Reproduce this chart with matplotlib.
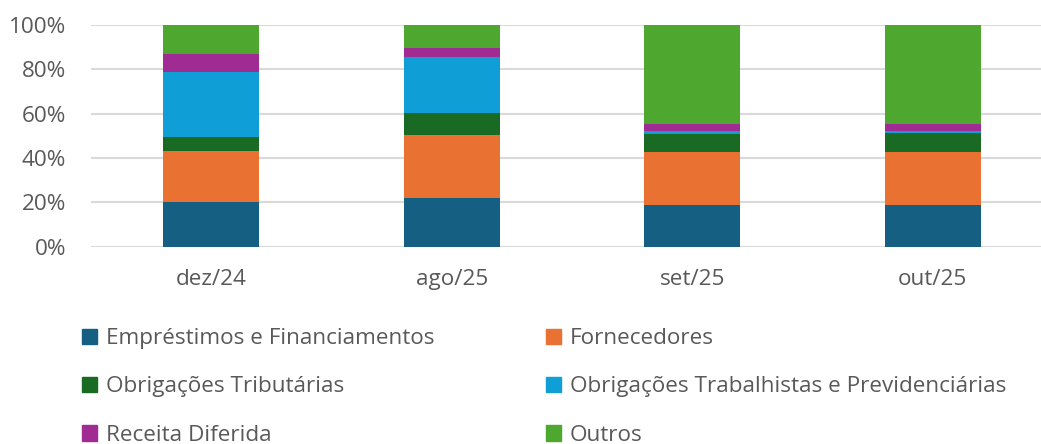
import numpy as np
import matplotlib
matplotlib.use("Agg")
import matplotlib.pyplot as plt
from matplotlib.patches import Patch

plt.rcParams['font.family'] = ['Open Sans', 'DejaVu Sans']

# data (percent of total)
categories = ['dez/24', 'ago/25', 'set/25', 'out/25']
series_names = ['Empréstimos e Financiamentos', 'Fornecedores', 'Obrigações Tributárias',
                'Obrigações Trabalhistas e Previdenciárias', 'Receita Diferida', 'Outros']
emprestimos = [20.0, 21.8, 18.6, 18.6]
fornecedores = [23.3, 28.5, 24.1, 24.1]
obrig_tributarias = [6.3, 9.8, 8.2, 8.7]
obrig_trabalhistas = [29.0, 25.6, 1.2, 0.7]
receita_diferida = [8.2, 4.0, 3.2, 3.2]
outros = [13.2, 10.3, 44.7, 44.7]

colors = ['#156082', '#e97132', '#196b24', '#0f9ed5', '#a02b93', '#4ea72e']
text_color = '#595959'
fs = 16.2

fig = plt.figure(figsize=(10.41, 4.44), dpi=100)
ax = fig.add_axes([91 / 1041, 1 - 246.5 / 444, 1 - 91 / 1041, 221.5 / 444])

x = np.arange(len(categories))
bottom = np.zeros(len(categories))
values = [emprestimos, fornecedores, obrig_tributarias, obrig_trabalhistas, receita_diferida, outros]
for name, vals, c in zip(series_names, values, colors):
    vals = np.array(vals)
    ax.bar(x, vals, 0.4, bottom=bottom, color=c, label=name, zorder=3)
    bottom += vals

ax.set_xlim(-0.5, 3.45)
ax.set_ylim(0, 100)
ax.set_yticks(np.arange(0, 101, 20))
ax.set_yticklabels([f'{v}%' for v in range(0, 101, 20)])
ax.set_xticks(x)
ax.set_xticklabels(categories)
ax.grid(axis='y', color='#d9d9d9', linewidth=1.5, zorder=0)
for s in ax.spines.values():
    s.set_visible(False)
ax.tick_params(axis='both', length=0, labelsize=fs, colors=text_color)
ax.tick_params(axis='x', pad=16)
ax.tick_params(axis='y', pad=18)

# legend in two columns, filled row by row
handles = [Patch(color=c) for c in colors]
kw = dict(frameon=False, fontsize=fs, labelcolor=text_color, handlelength=0.65,
          handleheight=0.65, handletextpad=0.4, labelspacing=1.22, borderpad=0,
          borderaxespad=0, loc='upper left')
leg1 = fig.legend([handles[0], handles[2], handles[4]],
                  [series_names[0], series_names[2], series_names[4]],
                  bbox_to_anchor=(82 / 1041, 1 - 328 / 444), **kw)
leg2 = fig.legend([handles[1], handles[3], handles[5]],
                  [series_names[1], series_names[3], series_names[5]],
                  bbox_to_anchor=(546 / 1041, 1 - 328 / 444), **kw)

fig.savefig('out.png', dpi=100)
